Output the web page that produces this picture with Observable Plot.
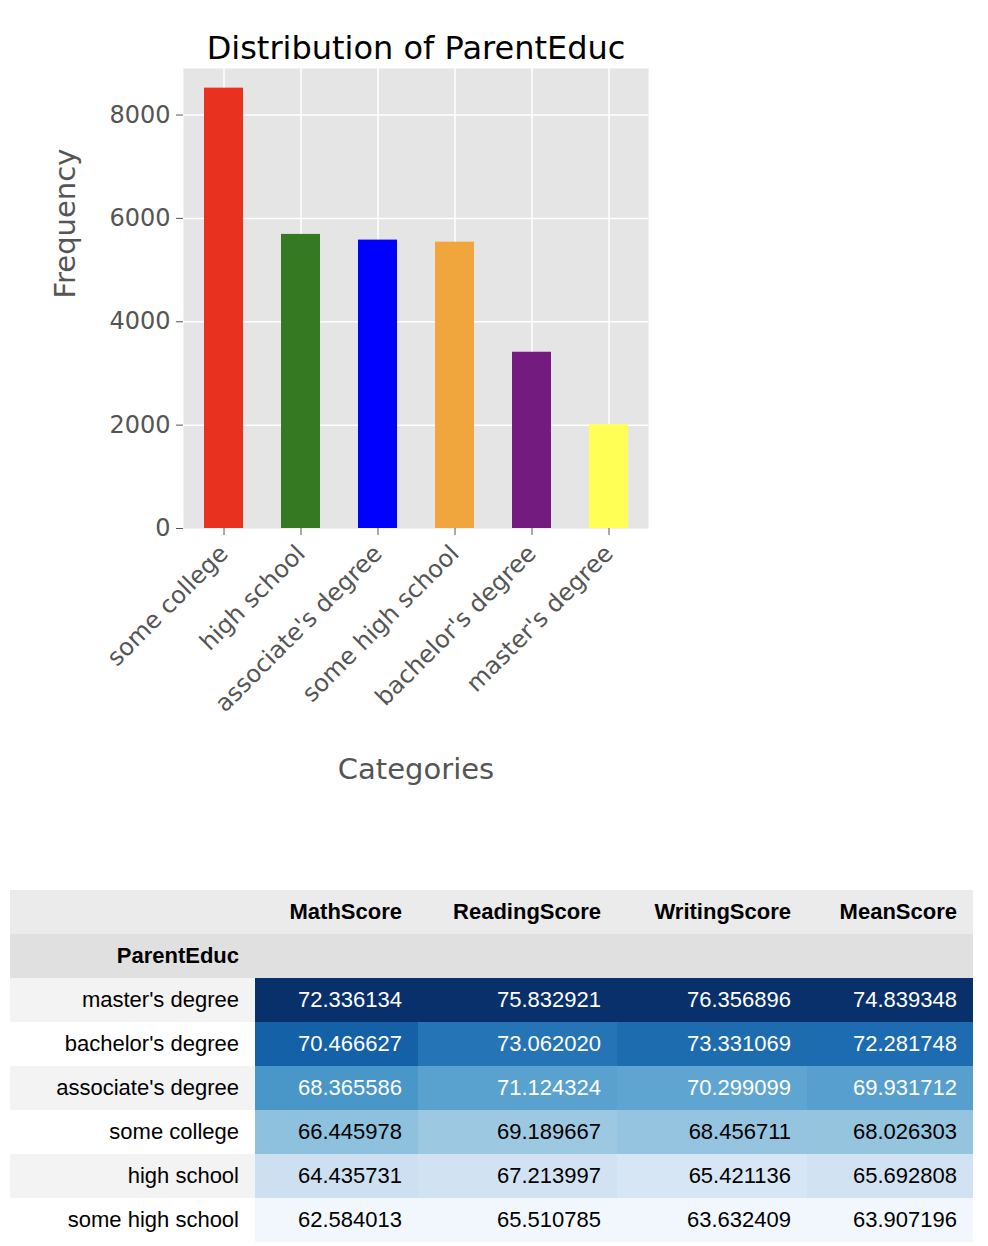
<!DOCTYPE html>
<html>
<head>
<meta charset="utf-8">
<script src="https://cdn.jsdelivr.net/npm/d3@7"></script>
<script src="https://cdn.jsdelivr.net/npm/@observablehq/plot@0.6"></script>
<style>
body { margin: 0; background: white; font-family: "DejaVu Sans", sans-serif; }
#chart { height: 820px; }
table { position: absolute; left: 10px; top: 890px; border-collapse: collapse; font-family: "Liberation Sans", Arial, sans-serif; font-size: 22px; }
td, th { height: 44px; padding: 0 16px; text-align: right; }
th { font-weight: bold; }
</style>
</head>
<body>
<div id="chart"></div>
<table id="tbl"></table>
<script>
// bar chart data
const categories = ["some college", "high school", "associate's degree", "some high school", "bachelor's degree", "master's degree"]
const counts = [8520, 5690, 5580, 5540, 3410, 2010]
const barColors = ["#e8321f", "#357a23", "#0000ff", "#f0a63c", "#731b7e", "#ffff55"]

// table data
const scoreCols = ["MathScore", "ReadingScore", "WritingScore", "MeanScore"]
const rowNames = ["master's degree", "bachelor's degree", "associate's degree", "some college", "high school", "some high school"]
const mathScore = [72.336134, 70.466627, 68.365586, 66.445978, 64.435731, 62.584013]
const readingScore = [75.832921, 73.062020, 71.124324, 69.189667, 67.213997, 65.510785]
const writingScore = [76.356896, 73.331069, 70.299099, 68.456711, 65.421136, 63.632409]
const meanScore = [74.839348, 72.281748, 69.931712, 68.026303, 65.692808, 63.907196]

let data = categories.map((c, i) => ({cat: c, n: counts[i], col: barColors[i]}))

let chart = Plot.plot({
  width: 720,
  height: 820,
  marginLeft: 183,
  marginRight: 72,
  marginTop: 68,
  marginBottom: 292,
  x: {domain: categories, paddingInner: 0.5, paddingOuter: 0.25, label: null},
  y: {domain: [0, 8900], label: null},
  style: {fontFamily: "DejaVu Sans, sans-serif", fontSize: 22, color: "#555"},
  marks: [
    Plot.frame({fill: "#e5e5e5", stroke: null}),
    Plot.gridY({ticks: [2000, 4000, 6000, 8000], stroke: "white", strokeOpacity: 1, strokeWidth: 1.5}),
    Plot.gridX({stroke: "white", strokeOpacity: 1, strokeWidth: 1.5}),
    Plot.barY(data, {x: "cat", y: "n", fill: "col"}),
    Plot.axisY({ticks: [0, 2000, 4000, 6000, 8000], tickFormat: "d", tickSize: 7, tickPadding: 6, fontSize: 24, label: "Frequency", labelAnchor: "center", labelOffset: 130, labelArrow: "none", fontSize: 24}),
    Plot.text(["Frequency"], {frameAnchor: "left", dx: -118, rotate: -90, fontSize: 29, fill: "#555"}),
    Plot.axisX({tickSize: 7, tickPadding: 14, tickRotate: -45, fontSize: 24, label: null}),
    Plot.text(["Categories"], {frameAnchor: "bottom", dy: 250, fontSize: 29, fill: "#555"}),
    Plot.text(["Distribution of ParentEduc"], {frameAnchor: "top", dy: -32, fontSize: 32, fill: "black"})
  ]
})
d3.select(chart).selectAll("g[aria-label='y-axis label']").remove()
d3.select('#chart').append(() => chart)

// styled table, per-column Blues gradient
const cols = [mathScore, readingScore, writingScore, meanScore]
const tbl = d3.select('#tbl')
let h1 = tbl.append('tr')
h1.append('th').style('background', '#ebebeb').style('width', '213px')
scoreCols.forEach(c => h1.append('th').text(c).style('background', '#ebebeb'))
let h2 = tbl.append('tr')
h2.append('th').text('ParentEduc').style('background', '#e0e0e0')
scoreCols.forEach(() => h2.append('th').style('background', '#e0e0e0'))
const widths = [131, 167, 158, 134]
rowNames.forEach((r, i) => {
  let tr = tbl.append('tr')
  tr.append('td').text(r).style('background', i % 2 ? 'white' : '#f3f3f3')
  cols.forEach((col, j) => {
    const t = (col[i] - d3.min(col)) / (d3.max(col) - d3.min(col))
    tr.append('td').text(col[i].toFixed(6))
      .style('background', d3.interpolateBlues(0.03 + t * 0.97))
      .style('color', t > 0.5 ? 'white' : 'black')
      .style('min-width', widths[j] + 'px')
  })
})
</script>
</body>
</html>
